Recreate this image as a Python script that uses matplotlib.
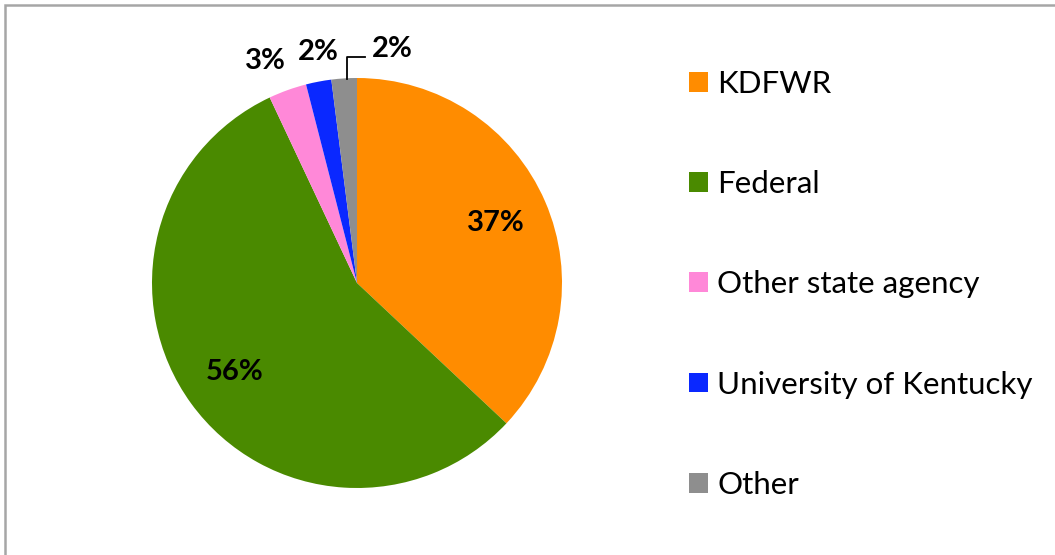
import numpy as np
import matplotlib.pyplot as plt
from matplotlib.patches import Rectangle

# data
categories = ["KDFWR", "Federal", "Other state agency", "University of Kentucky", "Other"]
shares = [37, 56, 3, 2, 2]
colors = ["#FF8C00", "#4A8A00", "#FF88D8", "#0A28FF", "#8E8E8E"]

plt.rcParams['font.family'] = ['Lato', 'DejaVu Sans']

fig = plt.figure(figsize=(10.55, 5.55), dpi=100)

# outer frame (only top and left edges visible)
fig.patches.append(Rectangle((4.5 / 1055, -0.1), 1.2, 1.1 - 5.5 / 555,
                             transform=fig.transFigure, fill=False,
                             edgecolor="#A6A6A6", linewidth=1.8))

cx, cy, r = 357, 283, 205
ax = fig.add_axes([(cx - r) / 1055, (555 - cy - r) / 555, 2 * r / 1055, 2 * r / 555])
wedges, _ = ax.pie(shares, colors=colors, startangle=90, counterclock=False,
                   radius=1.0, wedgeprops=dict(linewidth=0))
ax.set_xlim(-1, 1)
ax.set_ylim(-1, 1)
ax.set_aspect('auto')
ax.axis('off')

# percent labels
lbl_kw = dict(fontsize=21, fontweight='bold', ha='center', va='center', color='black')
for i, w in enumerate(wedges):
    mid = np.deg2rad((w.theta1 + w.theta2) / 2)
    txt = f"{shares[i]}%"
    if shares[i] >= 10:
        rr = 0.74
        ax.text(rr * np.cos(mid), rr * np.sin(mid), txt, **lbl_kw)
    elif i == 2:
        ax.text(-0.449, 1.085, txt, clip_on=False, **lbl_kw)
    elif i == 3:
        ax.text(-0.19, 1.125, txt, clip_on=False, **lbl_kw)
    else:
        x0 = np.cos(mid)
        ax.plot([x0 + 0.015, x0 + 0.015, 0.039], [0.995, 1.102, 1.102], color='black',
                linewidth=1.3, clip_on=False)
        ax.text(0.171, 1.14, txt, clip_on=False, **lbl_kw)

fig.legend(wedges, categories, loc='upper left', bbox_to_anchor=(689 / 1055, 1 - 70 / 555),
           frameon=False, fontsize=22.5, handlelength=0.6, handleheight=0.6,
           handletextpad=0.3, labelspacing=2.31, borderpad=0, borderaxespad=0)

fig.savefig('out.png', dpi=100)
